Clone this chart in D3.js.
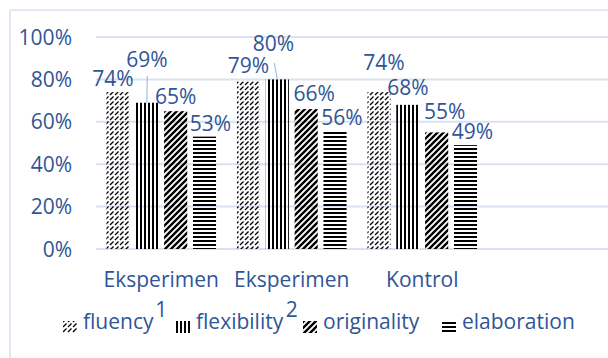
<!DOCTYPE html>
<html>
<head>
<meta charset="utf-8">
<script src="https://cdn.jsdelivr.net/npm/d3@7"></script>
<style>
  body { margin: 0; background: #fff; }
  text { font-family: "Open Sans", sans-serif; fill: #2f5597; }
</style>
</head>
<body>
<div id="chart"></div>
<script>
// data
var categories = ["Eksperimen 1", "Eksperimen 2", "Kontrol"];
var seriesNames = ["fluency", "flexibility", "originality", "elaboration"];
var fluency = [0.74, 0.79, 0.74];
var flexibility = [0.69, 0.80, 0.68];
var originality = [0.65, 0.66, 0.55];
var elaboration = [0.53, 0.56, 0.49];
var yTicks = [0, 0.2, 0.4, 0.6, 0.8, 1.0];

var seriesValues = [fluency, flexibility, originality, elaboration];

// hand-placed label nudges (dx, dy from bar top centre), like the original
var labelNudge = [
    [[-5, -14], [0, -16], [5, -30]],
    [[0, -43], [-4, -36], [0, -17]],
    [[0, -15], [8, -16], [8, -21]],
    [[6, -13], [7, -13], [7, -14]]
];

var W = 608, H = 358;
var margin = {top: 37, left: 96, bottom: 109};
var plotRight = 487.5;
var fontSize = "21px";

var svg = d3.select("#chart").append("svg")
    .attr("width", W)
    .attr("height", H);

// patterns
var defs = svg.append("defs");
var p1 = defs.append("pattern").attr("id", "pat_fluency")
    .attr("patternUnits", "userSpaceOnUse").attr("width", 10).attr("height", 10);
p1.append("path").attr("d", "M0,10 L10,0 M-5,5 L5,-5 M5,15 L15,5 M0,5 L5,0 M5,10 L10,5 M-5,10 L0,5 M10,5 L15,0 M5,0 L10,-5 M0,15 L5,10")
    .attr("stroke", "#000").attr("stroke-width", 1.3).attr("stroke-dasharray", "5,2.07");

var p2 = defs.append("pattern").attr("id", "pat_flexibility")
    .attr("patternUnits", "userSpaceOnUse").attr("width", 4).attr("height", 4);
p2.append("rect").attr("x", 0).attr("y", 0).attr("width", 2).attr("height", 4).attr("fill", "#000");

var p3 = defs.append("pattern").attr("id", "pat_originality")
    .attr("patternUnits", "userSpaceOnUse").attr("width", 6).attr("height", 6);
p3.append("path").attr("d", "M-1,7 L7,-1 M-4,4 L4,-4 M2,10 L10,2")
    .attr("stroke", "#000").attr("stroke-width", 2.4);

var p4 = defs.append("pattern").attr("id", "pat_elaboration")
    .attr("patternUnits", "userSpaceOnUse").attr("width", 4).attr("height", 4);
p4.append("rect").attr("x", 0).attr("y", 0).attr("width", 4).attr("height", 2).attr("fill", "#000");

// frame of the chart area (cropped on right / bottom)
svg.append("line").attr("x1", 10).attr("x2", W).attr("y1", 10).attr("y2", 10)
    .attr("stroke", "#d6e0ef").attr("stroke-width", 1.5);
svg.append("line").attr("x1", 10).attr("x2", 10).attr("y1", 10).attr("y2", H)
    .attr("stroke", "#d6e0ef").attr("stroke-width", 1.5);

var y = d3.scaleLinear().domain([0, 1]).range([H - margin.bottom, margin.top]);
var x0 = d3.scaleBand().domain(categories).range([margin.left, plotRight]).paddingInner(0.16).paddingOuter(0.08);
var x1 = d3.scaleBand().domain(seriesNames).range([0, x0.bandwidth()]).paddingInner(0.2);

// grid + y labels
svg.append("g").selectAll("line").data(yTicks).enter().append("line")
    .attr("x1", margin.left).attr("x2", W)
    .attr("y1", function(d) { return y(d); })
    .attr("y2", function(d) { return y(d); })
    .attr("stroke", "#d9e2f2").attr("stroke-width", 2);

svg.append("g").selectAll("text").data(yTicks).enter().append("text")
    .attr("x", 72)
    .attr("y", function(d) { return y(d); })
    .attr("dy", "0.36em")
    .attr("text-anchor", "end")
    .style("font-size", fontSize)
    .text(d3.format(".0%"));

// bars
var groups = svg.append("g").selectAll("g").data(seriesNames).enter().append("g");

groups.selectAll("rect")
    .data(function(s, i) { return seriesValues[i].map(function(v, j) { return {s: s, i: i, j: j, v: v}; }); })
    .enter().append("rect")
    .attr("x", function(d) { return x0(categories[d.j]) + x1(d.s); })
    .attr("y", function(d) { return y(d.v); })
    .attr("width", x1.bandwidth())
    .attr("height", function(d) { return y(0) - y(d.v); })
    .attr("fill", function(d) { return "url(#pat_" + d.s + ")"; });

// leader lines for the labels that were dragged away
var leaders = [{i: 1, j: 0, dx: 0.5, top: 76}, {i: 1, j: 1, dx: -3, top: 63}];
svg.append("g").selectAll("line").data(leaders).enter().append("line")
    .attr("x1", function(d) { return x0(categories[d.j]) + x1(seriesNames[d.i]) + x1.bandwidth() / 2 + d.dx; })
    .attr("y1", function(d) { return d.top; })
    .attr("x2", function(d) { return x0(categories[d.j]) + x1(seriesNames[d.i]) + x1.bandwidth() / 2; })
    .attr("y2", function(d) { return y(seriesValues[d.i][d.j]); })
    .attr("stroke", "#9dc3e6").attr("stroke-width", 1.2);

// value labels
groups.selectAll("text")
    .data(function(s, i) { return seriesValues[i].map(function(v, j) { return {s: s, i: i, j: j, v: v}; }); })
    .enter().append("text")
    .attr("x", function(d) { return x0(categories[d.j]) + x1(d.s) + x1.bandwidth() / 2 + labelNudge[d.i][d.j][0]; })
    .attr("y", function(d) { return y(d.v) + labelNudge[d.i][d.j][1]; })
    .attr("dy", "0.36em")
    .attr("text-anchor", "middle")
    .style("font-size", fontSize)
    .text(function(d) { return d3.format(".0%")(d.v); });

// category labels (wrap onto a second line like the original)
var cat = svg.append("g").selectAll("text").data(categories).enter().append("text")
    .attr("text-anchor", "middle")
    .style("font-size", fontSize);
cat.each(function(d) {
    var parts = d.split(" ");
    var t = d3.select(this);
    var cx = x0(d) + x0.bandwidth() / 2;
    t.append("tspan").attr("x", cx).attr("y", 287).text(parts[0]);
    if (parts.length > 1) {
        t.append("tspan").attr("x", cx).attr("y", 317).text(parts[1]);
    }
});

// legend
var legendX = [63, 176, 303, 442];
var leg = svg.append("g").selectAll("g").data(seriesNames).enter().append("g")
    .attr("transform", function(d, i) { return "translate(" + legendX[i] + ",322)"; });
leg.append("rect")
    .attr("x", 0).attr("y", -1).attr("width", 14).attr("height", 12)
    .attr("fill", function(d) { return "url(#pat_" + d + ")"; });
leg.append("text")
    .attr("x", 20).attr("y", 7)
    .style("font-size", fontSize)
    .text(function(d) { return d; });
</script>
</body>
</html>
